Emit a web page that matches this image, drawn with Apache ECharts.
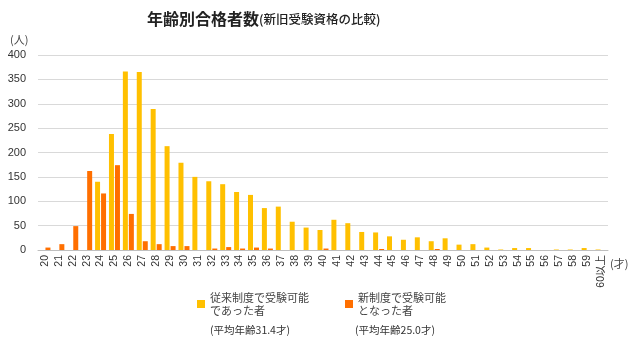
<!DOCTYPE html>
<html><head><meta charset="utf-8">
<script src="https://cdn.jsdelivr.net/npm/echarts@6/dist/echarts.min.js"></script>
<style>html,body{margin:0;padding:0;background:#fff}#c{width:640px;height:342px}</style>
</head><body><div id="c"></div>
<script>
const categories = ['20','21','22','23','24','25','26','27','28','29','30','31','32','33','34','35','36','37','38','39','40','41','42','43','44','45','46','47','48','49','50','51','52','53','54','55','56','57','58','59','60以上'];
const oldSystem = [0,0,0,0,140,238,366,365,289,213,179,150,141,135,119,113,86,89,58,46,41,62,55,37,36,28,21,26,18,24,11,12,5,1,4,4,0,1,1,4,1];
const newSystem = [5,12,49,162,116,174,74,18,12,8,8,0,3,6,3,5,3,0,0,0,3,0,0,0,2,0,0,0,2,0,0,0,0,0,0,0,0,0,0,0,0];
const seriesNames = ['従来制度で受験可能\nであった者','新制度で受験可能\nとなった者'];
const yTicks = {min:0, max:400, interval:50};

const font = '"Noto Sans CJK JP", "Liberation Sans", sans-serif';
const chart = echarts.init(document.getElementById('c'));
chart.setOption({
  animation:false,
  textStyle:{fontFamily:font},
  title:{
    left:142, top:6,
    text:'{a|年齢別合格者数}{b|(新旧受験資格の比較)}',
    textStyle:{fontWeight:'normal', rich:{
      a:{fontSize:16, fontWeight:'bold', color:'#222', fontFamily:font},
      b:{fontSize:12.5, fontWeight:500, color:'#222', fontFamily:font}
    }}
  },
  grid:{left:38, right:32, top:55, bottom:92},
  legend:[
    {data:[seriesNames[0]], left:192, top:286, itemWidth:8, itemHeight:8, icon:'rect',
     textStyle:{fontSize:11, color:'#444', lineHeight:13, fontFamily:font}},
    {data:[seriesNames[1]], left:340, top:286, itemWidth:8, itemHeight:8, icon:'rect',
     textStyle:{fontSize:11, color:'#444', lineHeight:13, fontFamily:font}}
  ],
  graphic:[
    {type:'text', left:210, top:325, style:{text:'(平均年齢31.4才)', font:'10.5px '+font, fill:'#333'}},
    {type:'text', left:355, top:325, style:{text:'(平均年齢25.0才)', font:'10.5px '+font, fill:'#333'}},
    {type:'text', left:10, top:34, style:{text:'(人)', font:'11px '+font, fill:'#444'}},
    {type:'text', left:610, top:258, style:{text:'(才)', font:'11px '+font, fill:'#444'}}
  ],
  xAxis:{
    type:'category', data:categories,
    axisLine:{lineStyle:{color:'#bfbfbf'}},
    axisTick:{show:false},
    axisLabel:{rotate:90, interval:0, fontSize:10.5, color:'#333', margin:5, fontFamily:'"Liberation Sans", "Noto Sans CJK JP", sans-serif'}
  },
  yAxis:{
    type:'value', min:yTicks.min, max:yTicks.max, interval:yTicks.interval,
    axisLine:{show:false}, axisTick:{show:false},
    splitLine:{lineStyle:{color:'#d9d9d9'}},
    axisLabel:{fontSize:11, color:'#333', margin:12, fontFamily:'"Liberation Sans", sans-serif'}
  },
  series:[
    {name:seriesNames[0], type:'bar', data:oldSystem, barWidth:5, barGap:'20%',
     itemStyle:{color:'#FFC000'}},
    {name:seriesNames[1], type:'bar', data:newSystem, barWidth:5, barGap:'20%',
     itemStyle:{color:'#FF6F00'}}
  ]
});
</script></body></html>
